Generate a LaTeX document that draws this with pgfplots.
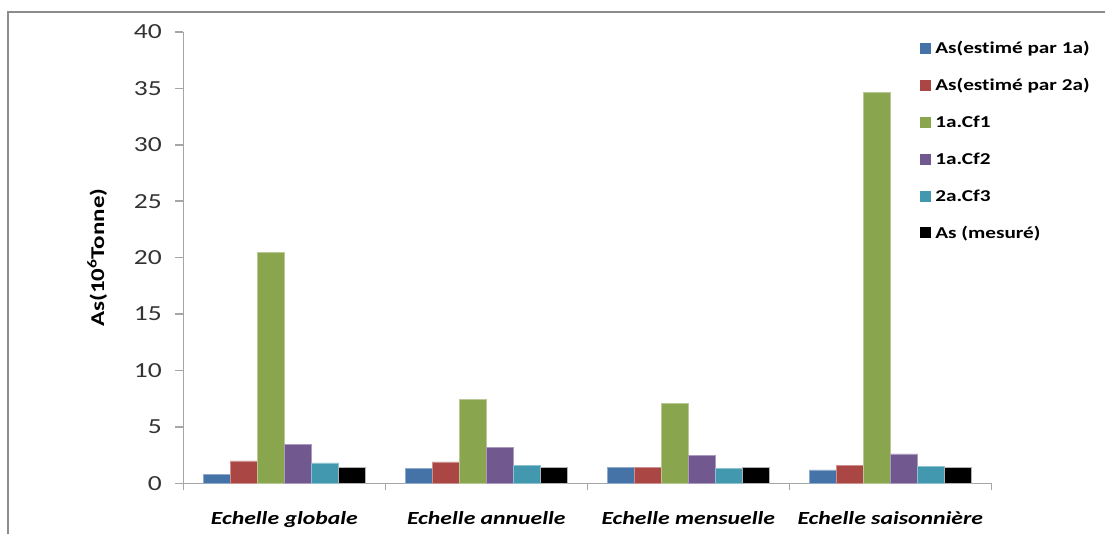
\documentclass[border=0pt]{standalone}
\usepackage{pgfplots}
\pgfplotsset{compat=1.18}
\usepackage{fontspec}
\setmainfont{Carlito}[FakeStretch=1.28, Ligatures={NoCommon}]
\definecolor{c1}{HTML}{4572A7}
\definecolor{c2}{HTML}{AA4643}
\definecolor{c3}{HTML}{89A54E}
\definecolor{c4}{HTML}{71588F}
\definecolor{c5}{HTML}{4198AF}
\definecolor{c6}{HTML}{000000}
\definecolor{axgray}{HTML}{A6A6A6}
\definecolor{framegray}{HTML}{8C8C8C}
\begin{document}
\begin{tikzpicture}
\useasboundingbox (0,0) rectangle (1105pt,533pt);
\draw[line width=2pt, color=framegray] (8pt,-2pt) -- (8pt,521pt) -- (1107pt,521pt);
\begin{axis}[
  at={(183.3pt,49.7pt)}, anchor=south west,
  scale only axis, width=808pt, height=451.3pt,
  ybar=0pt, bar width=27pt,
  xmin=-0.5, xmax=3.5, ymin=0, ymax=40,
  ytick={0,5,...,40},
  xtick={0,1,2,3},
  xticklabels={Echelle globale, Echelle annuelle, Echelle mensuelle, Echelle saisonnière},
  minor xtick={-0.5,0.5,1.5,2.5,3.5},
  axis x line*=bottom, axis y line*=left,
  axis line style={draw=axgray, line width=1.5pt},
  tick align=outside,
  major tick length=8pt, minor tick length=7pt,
  major x tick style={draw=none},
  minor x tick style={draw=axgray, line width=1.5pt},
  y tick style={draw=axgray, line width=1.5pt},
  /pgf/number format/assume math mode=true,
  yticklabel style={font=\fontsize{21.5}{21.5}\selectfont, text=black!80, xshift=-10pt},
  xticklabel style={font=\fontsize{18.5}{18.5}\selectfont\bfseries\itshape, text=black, yshift=-17pt},
  ylabel={As(10\textsuperscript{6}Tonne)},
  every axis y label/.style={at={(rel axis cs:0,0.5)}, xshift=-86pt, rotate=90, anchor=center,
     font=\fontsize{19.5}{19.5}\selectfont\bfseries},
  legend style={at={(axis description cs:0.9121,1.0044)}, anchor=north west, draw=none, fill=none,
     inner sep=0pt, outer sep=0pt, row sep=0pt, column sep=4pt,
     font=\fontsize{16.6}{16.6}\selectfont\bfseries,
     nodes={inner sep=0pt, minimum height=36.9pt}},
  legend cell align=left,
  legend image code/.code={\fill[#1,draw=none] (0pt,-5.5pt) rectangle (11pt,5.5pt);},
]
\addplot[fill=c1, draw=c1!60!white, line width=0.5pt] coordinates {(0,0.80) (1,1.29) (2,1.38) (3,1.18)};
\addplot[fill=c2, draw=c2!60!white, line width=0.5pt] coordinates {(0,1.98) (1,1.89) (2,1.38) (3,1.60)};
\addplot[fill=c3, draw=c3!60!white, line width=0.5pt] coordinates {(0,20.48) (1,7.47) (2,7.06) (3,34.66)};
\addplot[fill=c4, draw=c4!60!white, line width=0.5pt] coordinates {(0,3.48) (1,3.19) (2,2.48) (3,2.60)};
\addplot[fill=c5, draw=c5!60!white, line width=0.5pt] coordinates {(0,1.80) (1,1.60) (2,1.29) (3,1.51)};
\addplot[fill=c6, draw=gray!60, line width=0.5pt] coordinates {(0,1.42) (1,1.42) (2,1.42) (3,1.42)};
\legend{As(estimé par 1a), As(estimé par 2a), 1a.Cf1, 1a.Cf2, 2a.Cf3, As (mesuré)}
\end{axis}
\end{tikzpicture}
\end{document}
